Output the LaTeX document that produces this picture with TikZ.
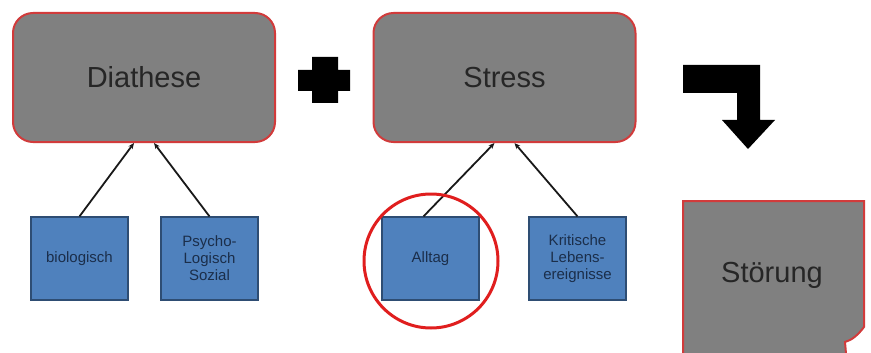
\documentclass[tikz,border=0pt]{standalone}
\usepackage{fontspec}
\setmainfont{Liberation Sans}
\usetikzlibrary{arrows.meta}
\definecolor{boxgray}{HTML}{808080}
\definecolor{boxred}{HTML}{D13B3B}
\definecolor{boxblue}{HTML}{4F81BD}
\definecolor{blueline}{HTML}{2E4D73}
\definecolor{bluetext}{HTML}{1B2E4A}
\definecolor{circred}{HTML}{E01E1E}
\begin{document}
\begin{tikzpicture}[x=1pt,y=-1pt,
  bigbox/.style={draw=boxred,fill=boxgray,line width=2pt,rounded corners=20pt,
    minimum width=262pt,minimum height=129pt,inner sep=0pt,
    font=\fontsize{29}{33}\selectfont,text=black!85},
  factor/.style={draw=blueline,fill=boxblue,line width=1.2pt,minimum width=97pt,
    minimum height=83pt,inner sep=0pt,align=center,
    font=\fontsize{15}{17}\selectfont,text=bluetext},
  link/.style={-{Stealth[length=6pt,width=5pt]},line width=1.8pt,black!90},
  bigtext/.style={font=\fontsize{29}{33}\selectfont,text=black!85,inner sep=0pt}]
\useasboundingbox (0,0) rectangle (871,353);
% main boxes
\node[bigbox] (dia) at (144,77.5) {Diathese};
\node[bigbox] (str) at (504.5,77.5) {Stress};
% plus sign
\fill[black] (298,70) -- (312,70) -- (312,57) -- (338,57) -- (338,70) -- (350,70)
  -- (350,91) -- (338,91) -- (338,103) -- (312,103) -- (312,91) -- (298,91) -- cycle;
% bent arrow
\fill[black] (683,65) -- (760,65) -- (760,120) -- (775,120) -- (748,149)
  -- (722,120) -- (737,120) -- (737,93) -- (683,93) -- cycle;
% factor boxes
\node[factor] (bio) at (79.5,258.5) {biologisch};
\node[factor] (psy) at (209.5,258.5) {Psycho-\\Logisch\\Sozial};
\node[factor] (all) at (430.5,258.5) {Alltag};
\node[factor] (kri) at (577.5,258.5) {Kritische\\Lebens-\\ereignisse};
% connectors
\draw[link] (bio.north) -- ([xshift=-10pt]dia.south);
\draw[link] (psy.north) -- ([xshift=10pt]dia.south);
\draw[link] ([xshift=-7pt]all.north) -- ([xshift=-10pt]str.south);
\draw[link] (kri.north) -- ([xshift=10pt]str.south);
% highlight ring
\node[draw=circred,line width=3pt,circle,minimum size=134pt,inner sep=0pt] (ring) at (431,261) {};
% Stoerung sheet with folded corner
\filldraw[draw=boxred,fill=boxgray,line width=2pt]
  (683,365) -- (683,201) -- (864,201) -- (864,327)
  .. controls (858,335) and (852,340) .. (845,342)
  -- (847,365) -- cycle;
\node[bigtext] (stoe) at (772,275) {Störung};
\end{tikzpicture}
\end{document}
